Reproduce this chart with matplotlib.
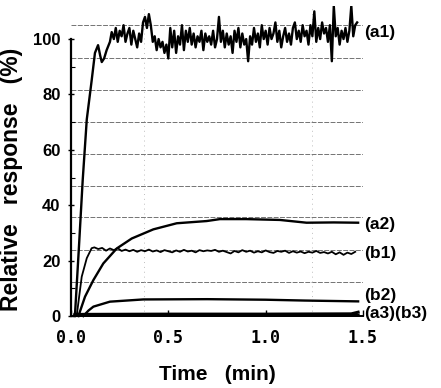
import numpy as np
import matplotlib
matplotlib.use("Agg")
import matplotlib.pyplot as plt

# ---------------- data ----------------
# a1: initial rise, then noisy plateau
a1_rise_t = [0.02, 0.04, 0.06, 0.081, 0.106, 0.123, 0.139, 0.15, 0.158, 0.17, 0.183, 0.20, 0.209]
a1_rise_v = [0.0, 24, 49, 71, 85, 95, 97.8, 94, 91.7, 93, 96, 99, 102.5]
a1_noise_t0, a1_noise_t1 = 0.22, 1.47
a1_noise_v = [100, 104, 99, 103, 101, 105, 99, 102, 104,
              98, 103, 100, 97, 102, 99, 106, 108, 104, 109,
              105, 99, 101, 96, 100, 97, 99, 95, 98, 93,
              104, 97, 103, 95, 101, 98, 105, 96, 103, 99,
              104, 98, 102, 97, 101, 99, 103, 96, 102, 99,
              101, 98, 103, 97, 100, 108, 99, 103, 97, 102,
              98, 101, 95, 103, 99, 104, 97, 102, 98, 100,
              92, 101, 98, 104, 99, 102, 97, 105, 100, 103,
              98, 104, 100, 102, 106, 99, 103, 97, 101, 104,
              99, 102, 98, 104, 106, 100, 103, 99, 105, 101,
              103, 98, 105, 101, 110, 99, 104, 100, 106, 102,
              104, 99, 105, 92, 112, 101, 104, 98, 103, 100,
              104, 99, 103, 112, 101, 105, 106]

# a2: smooth saturating curve
a2_t = [0.038, 0.072, 0.115, 0.166, 0.235, 0.312, 0.423, 0.543, 0.697, 0.765, 0.90, 1.073, 1.21, 1.35, 1.475]
a2_v = [0.0, 7.0, 13.0, 19.0, 24.4, 28.0, 31.3, 33.5, 34.3, 35.0, 35.0, 34.7, 33.7, 33.8, 33.7]

# b1: fast rise, then slightly noisy plateau
b1_rise_t = [0.029, 0.055, 0.081, 0.106]
b1_rise_v = [0.0, 14.2, 20.9, 24.5]
b1_noise_t0, b1_noise_t1 = 0.12, 1.46
b1_noise_v = [24.8, 24.2, 24.6, 23.6, 24.4, 23.8, 24.5, 23.5, 24.0, 23.4,
              23.9, 23.2, 23.8, 23.4, 24.0, 23.3, 23.7, 23.1, 23.8, 23.4,
              23.0, 23.7, 23.2, 23.9, 23.3, 23.6, 23.0, 23.8, 23.4, 23.7,
              23.5, 23.9, 23.2, 23.6, 23.1, 22.6, 23.5, 23.0, 23.8, 23.2,
              23.6, 22.9, 23.4, 23.0, 23.7, 23.1, 22.8, 23.5, 23.2, 23.6,
              22.8, 23.4, 22.9, 23.3, 22.7, 23.2, 22.9, 23.5, 22.8, 23.1,
              22.6, 23.2, 22.3, 23.0, 22.1, 22.9, 22.4, 23.2]

# b2
b2_t = [0.063, 0.09, 0.115, 0.2, 0.371, 0.7, 1.0, 1.2, 1.475]
b2_v = [0.0, 2.0, 3.4, 5.2, 6.0, 6.1, 5.9, 5.6, 5.3]

# a3 and b3 (near zero)
a3_t = [0.02, 0.5, 1.0, 1.44, 1.475]
a3_v = [0.6, 0.7, 0.7, 0.8, 1.4]
b3_t = [0.02, 0.5, 1.0, 1.475]
b3_v = [0.2, 0.3, 0.3, 0.3]

# background dashed grid levels of the original chart paper (%)
grid_levels = [12.3, 23.8, 35.7, 46.9, 58.5, 70.0, 81.6, 93.1, 105.0]
vgrid_times = [0.375, 1.24]

x_ticks = [0.0, 0.5, 1.0, 1.5]
x_tick_labels = ["0.0", "0.5", "1.0", "1.5"]
y_ticks = [0, 20, 40, 60, 80, 100]
y_minor = [10, 30, 50, 70, 90]

curve_labels = ["(a1)", "(a2)", "(b1)", "(b2)", "(a3)(b3)"]
curve_label_y = [102.5, 33.2, 22.7, 7.6, 1.1]

# ---------------- figure ----------------
plt.rcParams['font.family'] = ['Liberation Sans', 'DejaVu Sans']
fig = plt.figure(figsize=(4.41, 3.88), dpi=100)
ax = fig.add_axes([0.1544, 0.1747, 0.6687, 0.8103])
ax.set_xlim(-0.015, 1.5)
ax.set_ylim(-1.5, 112)

for g in grid_levels:
    ax.hlines(g, 0, 1.5, colors='0.45', linestyles=(0, (5, 1.5)), linewidth=0.7, zorder=1)
for vg in vgrid_times:
    ax.vlines(vg, 0, 112, colors='0.75', linestyles=(0, (1, 4)), linewidth=0.7, zorder=1)

a1_t = list(a1_rise_t) + list(np.linspace(a1_noise_t0, a1_noise_t1, len(a1_noise_v)))
a1_v = list(a1_rise_v) + list(a1_noise_v)
b1_t = list(b1_rise_t) + list(np.linspace(b1_noise_t0, b1_noise_t1, len(b1_noise_v)))
b1_v = list(b1_rise_v) + list(b1_noise_v)

ax.plot(a1_t, a1_v, color='black', lw=1.7, zorder=3)
ax.plot(a2_t, a2_v, color='black', lw=1.7, zorder=3)
ax.plot(b1_t, b1_v, color='black', lw=1.3, zorder=3)
ax.plot(b2_t, b2_v, color='black', lw=1.7, zorder=3)
ax.plot(a3_t, a3_v, color='black', lw=2.2, zorder=3, clip_on=False)
ax.plot(b3_t, b3_v, color='black', lw=2.2, zorder=3, clip_on=False)

for lab, yv in zip(curve_labels, curve_label_y):
    ax.text(1.505, yv, lab, ha='left', va='center', fontsize=12.5, fontweight='bold',
            clip_on=False)

for s in ['top', 'right']:
    ax.spines[s].set_visible(False)
ax.spines['left'].set_position(('data', 0))
ax.spines['left'].set_bounds(0, 100)
ax.spines['bottom'].set_position(('data', 0))
ax.spines['bottom'].set_bounds(0, 1.5)
ax.spines['left'].set_linewidth(1.6)
ax.spines['bottom'].set_linewidth(1.4)

ax.set_xticks(x_ticks)
ax.set_xticklabels(x_tick_labels)
ax.set_yticks(y_ticks)
ax.set_yticks(y_minor, minor=True)
ax.tick_params(axis='x', direction='in', length=4, width=1, pad=9)
ax.tick_params(axis='y', which='major', direction='inout', length=5, width=1, pad=5)
ax.tick_params(axis='y', which='minor', direction='in', length=3, width=0.8)
for lbl in ax.get_xticklabels():
    lbl.set_fontfamily('DejaVu Sans Mono')
    lbl.set_fontweight('bold')
    lbl.set_fontsize(12)
for lbl in ax.get_yticklabels():
    lbl.set_fontweight('bold')
    lbl.set_fontsize(12)

fig.text(217 / 441, 1 - 375 / 388, "Time   (min)", ha='center', va='center',
         fontsize=15, fontweight='bold')
fig.text(12 / 441, 1 - 179 / 388, "Relative   response   (%)", ha='center', va='center',
         rotation=90, fontsize=16.5, fontweight='bold')

fig.savefig("out.png", dpi=100)
